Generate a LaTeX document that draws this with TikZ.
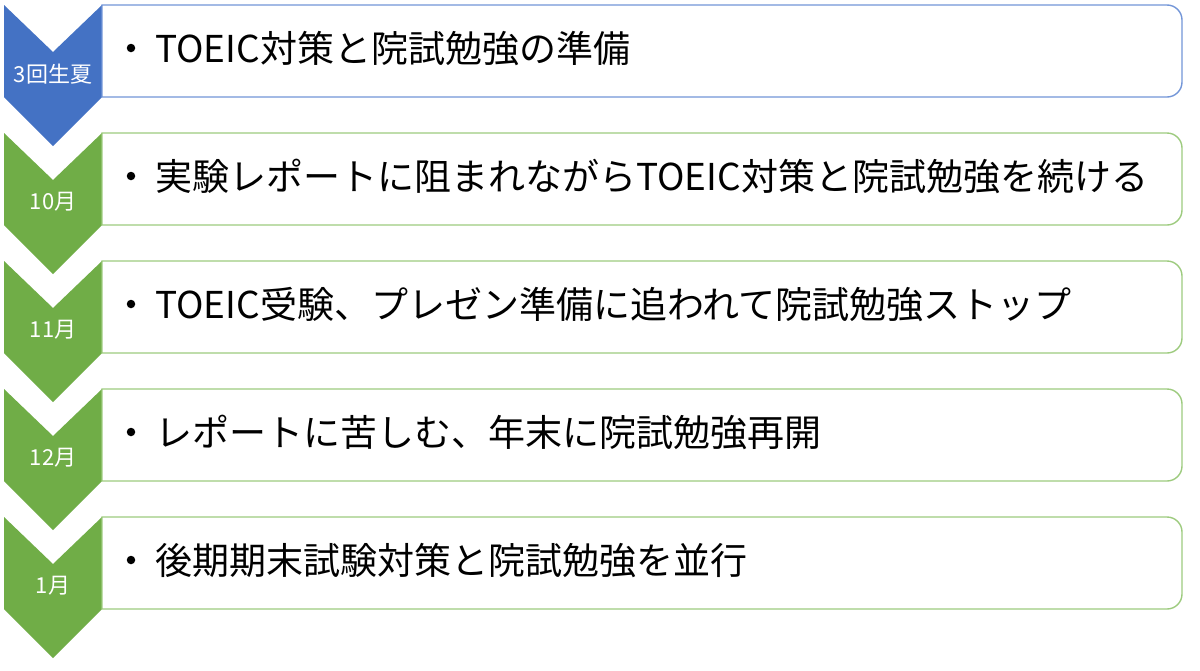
\documentclass[tikz,border=0pt]{standalone}
\usepackage{fontspec}
\setmainfont{Noto Sans CJK JP}
\definecolor{cblue}{HTML}{4472C4}
\definecolor{bblue}{HTML}{7396D8}
\definecolor{cgreen}{HTML}{70AD47}
\definecolor{bgreen}{HTML}{9DCB7E}
\tikzset{
  chev/.style={fill=#1, draw=none},
  boxline/.style={draw=#1, line width=1.4pt, fill=white},
  lbl/.style={text=white, font=\fontsize{22}{26}\selectfont, inner sep=0pt, anchor=center},
  txt/.style={anchor=base west, font=\fontsize{37}{44}\selectfont, inner sep=0pt},
  bul/.style={fill=black, circle, inner sep=0pt, minimum size=8.5pt},
}
\newcommand{\rowitem}[6]{%
  % #1 top, #2 chevron colour, #3 border colour, #4 label, #5 text, #6 name
  \fill[chev=#2] (4,#1) -- (53,#1+47) -- (102,#1) -- (102,#1+92) -- (53,#1+141) -- (4,#1+92) -- cycle;
  \draw[boxline=#3] (102,#1) -- (1167,#1) arc[start angle=270,end angle=360,radius=15]
     -- (1182,#1+77) arc[start angle=0,end angle=90,radius=15] -- (102,#1+92) -- cycle;
  \node[lbl] (l#6) at (53,#1+69) {#4};
  \node[bul] (b#6) at (131,#1+43) {};
  \node[txt] (t#6) at (155,#1+57) {#5};
}
\begin{document}
\begin{tikzpicture}[x=1pt,y=-1pt]
\fill[white] (0,0) rectangle (1200,670);
\useasboundingbox (0,0) rectangle (1200,670);
\rowitem{5}{cblue}{bblue}{3回生夏}{TOEIC対策と院試勉強の準備}{a}
\rowitem{133}{cgreen}{bgreen}{10月}{実験レポートに阻まれながらTOEIC対策と院試勉強を続ける}{b}
\rowitem{261}{cgreen}{bgreen}{11月}{TOEIC受験、プレゼン準備に追われて院試勉強ストップ}{c}
\rowitem{389}{cgreen}{bgreen}{12月}{レポートに苦しむ、年末に院試勉強再開}{d}
\rowitem{517}{cgreen}{bgreen}{1月}{後期期末試験対策と院試勉強を並行}{e}
\end{tikzpicture}
\end{document}
